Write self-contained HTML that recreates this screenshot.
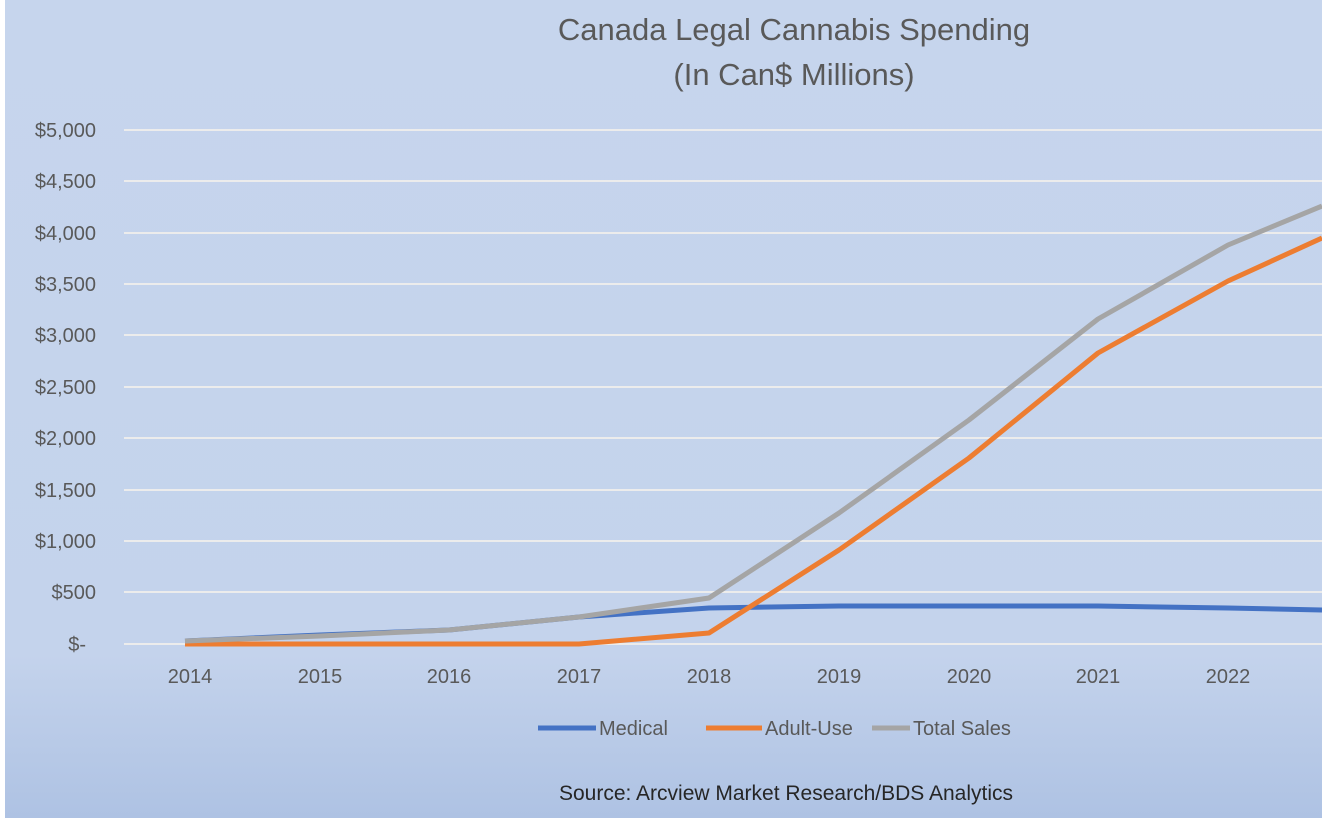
<!DOCTYPE html>
<html><head><style>
body{margin:0;width:1322px;height:818px;overflow:hidden}
</style></head><body>
<svg width="1322" height="818" xmlns="http://www.w3.org/2000/svg" font-family="Liberation Sans, sans-serif">
<defs><linearGradient id="g" x1="0" y1="0" x2="0" y2="1">
<stop offset="0" stop-color="#c6d5ed"/><stop offset="0.8" stop-color="#c4d3ec"/><stop offset="1" stop-color="#aec2e3"/></linearGradient></defs>
<rect width="1322" height="818" fill="#fff"/>
<rect x="5" y="0" width="1317" height="818" fill="url(#g)"/>
<g fill="#595959" font-size="31" text-anchor="middle">
<text x="794" y="40">Canada Legal Cannabis Spending</text>
<text x="794" y="85">(In Can$ Millions)</text></g>
<g stroke="#ececec" stroke-width="2">
<line x1="124" y1="130" x2="1322" y2="130"/><line x1="124" y1="181" x2="1322" y2="181"/>
<line x1="124" y1="233" x2="1322" y2="233"/><line x1="124" y1="284" x2="1322" y2="284"/>
<line x1="124" y1="335" x2="1322" y2="335"/><line x1="124" y1="387" x2="1322" y2="387"/>
<line x1="124" y1="438" x2="1322" y2="438"/><line x1="124" y1="490" x2="1322" y2="490"/>
<line x1="124" y1="541" x2="1322" y2="541"/><line x1="124" y1="592" x2="1322" y2="592"/>
<line x1="124" y1="644" x2="1322" y2="644"/></g>
<g fill="#595959" font-size="20" text-anchor="end">
<text x="96" y="137">$5,000</text><text x="96" y="188">$4,500</text><text x="96" y="240">$4,000</text>
<text x="96" y="291">$3,500</text><text x="96" y="342">$3,000</text><text x="96" y="394">$2,500</text>
<text x="96" y="445">$2,000</text><text x="96" y="497">$1,500</text><text x="96" y="548">$1,000</text>
<text x="96" y="599">$500</text><text x="86" y="651">$-</text></g>
<g fill="#595959" font-size="20" text-anchor="middle">
<text x="190" y="683">2014</text><text x="320" y="683">2015</text><text x="449" y="683">2016</text>
<text x="579" y="683">2017</text><text x="709" y="683">2018</text><text x="839" y="683">2019</text>
<text x="969" y="683">2020</text><text x="1098" y="683">2021</text><text x="1228" y="683">2022</text></g>
<g fill="none" stroke-width="5" stroke-linejoin="round">
<polyline stroke="#4472c4" points="185,641 320,635 449,630 579,617 709,608 839,606 969,606 1098,606 1228,608 1322,610"/>
<polyline stroke="#ed7d31" points="185,644 320,644 449,644 579,644 709,633 839,550 969,458 1098,353 1228,281 1322,238"/>
<polyline stroke="#a5a5a5" points="185,641 320,636 449,630 579,617 709,598 839,513 969,420 1098,319 1228,245 1322,206"/>
</g>
<g stroke-width="5">
<line x1="538" y1="728" x2="596" y2="728" stroke="#4472c4"/>
<line x1="706" y1="728" x2="762" y2="728" stroke="#ed7d31"/>
<line x1="872" y1="728" x2="910" y2="728" stroke="#a5a5a5"/></g>
<g fill="#595959" font-size="20">
<text x="599" y="735">Medical</text><text x="765" y="735">Adult-Use</text><text x="913" y="735">Total Sales</text></g>
<text x="786" y="800" text-anchor="middle" fill="#262626" font-size="21">Source: Arcview Market Research/BDS Analytics</text>
</svg>
</body></html>
